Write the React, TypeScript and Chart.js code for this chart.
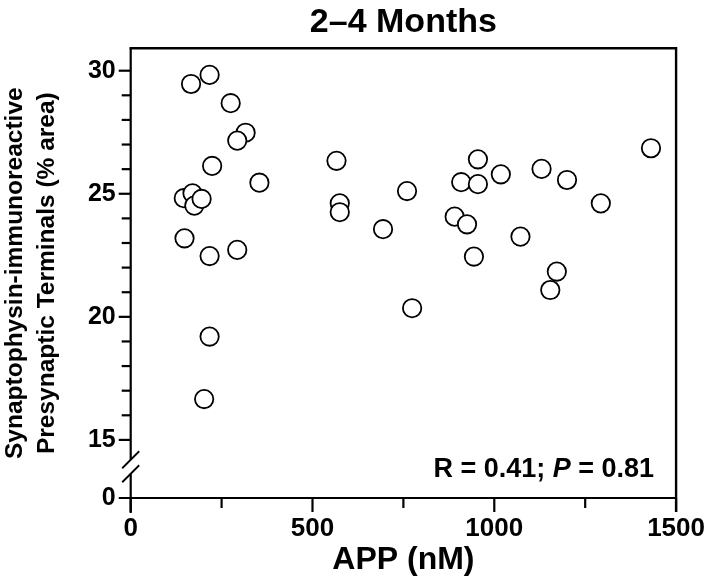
import React, { useEffect, useRef } from 'react';
import { Chart, registerables } from 'chart.js';

Chart.register(...registerables);

// ---- data ----
const APP_NM = [
  166, 217, 275, 316, 293, 224, 354, 146, 170, 175, 195,
  566, 575, 575, 760, 694, 148, 217, 293, 774, 217, 202,
  1431, 955, 909, 955, 1018, 1130, 1200, 1293, 891, 925, 1072, 944, 1172, 1154,
];
const SYNAPTOPHYSIN = [
  29.46, 29.83, 28.68, 27.48, 27.16, 26.13, 25.45, 24.82, 25.02, 24.52, 24.79,
  26.34, 24.61, 24.25, 25.11, 23.56, 23.19, 22.47, 22.72, 20.35, 19.2, 16.66,
  26.85, 26.4, 25.47, 25.39, 25.79, 26.01, 25.56, 24.61, 24.07, 23.76, 23.26, 22.45, 21.84, 21.09,
];

const X_TICK_VALUES = [0, 250, 500, 750, 1000, 1250, 1500];
const X_LABELED = [0, 500, 1000, 1500];
const Y_TICK_VALUES = [15, 16, 17, 18, 19, 20, 21, 22, 23, 24, 25, 26, 27, 28, 29, 30];
const Y_LABELED = [15, 20, 25, 30];

const TITLE = '2–4 Months';
const X_TITLE = 'APP (nM)';
const Y_TITLE = ['Synaptophysin-immunoreactive', 'Presynaptic Terminals (% area)'];
const STAT_R = 'R = 0.41; ';
const STAT_P = 'P';
const STAT_P_VALUE = ' = 0.81';

// axis layout (broken y axis: "0" sits below the break)
const Y_ZERO_POS = 12.64;
const Y_TOP = 30.91;
const X_MIN = 0;
const X_MAX = 1500;

const FONT = '"Liberation Sans", Arial, Helvetica, sans-serif';

const framePlugin = {
  id: 'frame',
  beforeDatasetsDraw(chart: any) {
    const { ctx, chartArea, scales } = chart;
    const { left, right, top, bottom } = chartArea;
    const y = scales.y;
    const x = scales.x;
    ctx.save();
    ctx.strokeStyle = '#000';
    ctx.lineCap = 'butt';
    ctx.lineWidth = 2.4;
    ctx.beginPath();
    ctx.moveTo(left - 1, top);
    ctx.lineTo(right, top);
    ctx.lineTo(right, bottom + 14);
    ctx.stroke();
    ctx.lineWidth = 2.2;
    ctx.beginPath();
    ctx.moveTo(left - 12, bottom);
    ctx.lineTo(right, bottom);
    ctx.stroke();
    // left axis with break
    const y15 = y.getPixelForValue(15);
    const y0 = y.getPixelForValue(Y_ZERO_POS);
    const mid = y15 + (y0 - y15) * 0.462;
    const gap = 7;
    ctx.beginPath();
    ctx.moveTo(left, top - 1);
    ctx.lineTo(left, mid - gap);
    ctx.moveTo(left, mid + gap);
    ctx.lineTo(left, bottom + 15);
    ctx.stroke();
    ctx.lineWidth = 1.8;
    for (const c of [mid - gap, mid + gap]) {
      ctx.beginPath();
      ctx.moveTo(left - 8.5, c + 8.5);
      ctx.lineTo(left + 8.5, c - 8.5);
      ctx.stroke();
    }
    // y ticks
    ctx.lineWidth = 2.2;
    for (const v of Y_TICK_VALUES) {
      const py = y.getPixelForValue(v);
      const len = Y_LABELED.includes(v) ? 12 : 9;
      ctx.beginPath();
      ctx.moveTo(left - len, py);
      ctx.lineTo(left, py);
      ctx.stroke();
    }
    // x ticks
    for (const v of X_TICK_VALUES) {
      const px = x.getPixelForValue(v);
      const len = X_LABELED.includes(v) ? 14 : 10;
      ctx.beginPath();
      ctx.moveTo(px, bottom);
      ctx.lineTo(px, bottom + len);
      ctx.stroke();
    }
    ctx.restore();
  },
  afterDatasetsDraw(chart: any) {
    const { ctx, chartArea } = chart;
    const { right, bottom } = chartArea;
    ctx.save();
    ctx.fillStyle = '#000';
    ctx.textBaseline = 'alphabetic';
    const normal = `bold 27px ${FONT}`;
    const italic = `italic bold 27px ${FONT}`;
    ctx.font = normal;
    const w1 = ctx.measureText(STAT_R).width;
    const w3 = ctx.measureText(STAT_P_VALUE).width;
    ctx.font = italic;
    const w2 = ctx.measureText(STAT_P).width;
    const xEnd = right - 22;
    const base = bottom - 21;
    let xs = xEnd - (w1 + w2 + w3);
    ctx.font = normal;
    ctx.fillText(STAT_R, xs, base);
    xs += w1;
    ctx.font = italic;
    ctx.fillText(STAT_P, xs, base);
    xs += w2;
    ctx.font = normal;
    ctx.fillText(STAT_P_VALUE, xs, base);
    ctx.restore();
  },
};

export default function App() {
  const ref = useRef<HTMLCanvasElement | null>(null);

  useEffect(() => {
    document.body.style.margin = '0';
    const canvas = ref.current;
    if (!canvas) return;
    Chart.defaults.font.family = FONT;
    const chart = new Chart(canvas, {
      type: 'scatter',
      data: {
        datasets: [
          {
            data: APP_NM.map((v, i) => ({ x: v, y: SYNAPTOPHYSIN[i] })),
            pointRadius: 9.2,
            pointHoverRadius: 9.2,
            pointBorderWidth: 1.8,
            pointBackgroundColor: '#fff',
            pointBorderColor: '#000',
          },
        ],
      },
      options: {
        animation: false,
        responsive: false,
        devicePixelRatio: 1,
        layout: { padding: { top: 0, right: 30.5, bottom: 0, left: 0 } },
        plugins: {
          legend: { display: false },
          tooltip: { enabled: false },
          title: {
            display: true,
            text: TITLE,
            fullSize: false,
            color: '#000',
            font: { size: 34, weight: 'bold', lineHeight: 1.2 },
            padding: { top: 2, bottom: 5.5 },
          },
        },
        scales: {
          x: {
            type: 'linear',
            min: X_MIN,
            max: X_MAX,
            afterBuildTicks: (s: any) => {
              s.ticks = X_TICK_VALUES.map((v) => ({ value: v }));
            },
            afterFit: (s: any) => {
              s.height = 87;
            },
            grid: { display: false, drawTicks: false },
            border: { display: false },
            ticks: {
              autoSkip: false,
              maxRotation: 0,
              padding: 15,
              color: '#000',
              font: { size: 26, weight: 'bold', lineHeight: 1.2 },
              callback: (v: any) => (X_LABELED.includes(v) ? String(v) : ''),
            },
            title: {
              display: true,
              text: X_TITLE,
              color: '#000',
              font: { size: 32, weight: 'bold', lineHeight: 1.2 },
              padding: { top: 0, bottom: 6 },
            },
          },
          y: {
            type: 'linear',
            min: Y_ZERO_POS,
            max: Y_TOP,
            afterBuildTicks: (s: any) => {
              s.ticks = [Y_ZERO_POS, ...Y_TICK_VALUES].map((v) => ({ value: v }));
            },
            afterFit: (s: any) => {
              s.width = 130.7;
            },
            grid: { display: false, drawTicks: false },
            border: { display: false },
            ticks: {
              autoSkip: false,
              padding: 15,
              color: '#000',
              font: { size: 25, weight: 'bold', lineHeight: 1.2 },
              callback: (v: any) =>
                v === Y_ZERO_POS ? '0' : Y_LABELED.includes(v) ? String(v) : '',
            },
            title: {
              display: true,
              text: Y_TITLE,
              color: '#000',
              font: { size: 24.5, weight: 'bold', lineHeight: 1.28 },
              padding: { top: 0, bottom: 0 },
            },
          },
        },
      },
      plugins: [framePlugin],
    });
    return () => chart.destroy();
  }, []);

  return <canvas ref={ref} width={720} height={585} style={{ display: 'block', width: 720, height: 585 }} />;
}
